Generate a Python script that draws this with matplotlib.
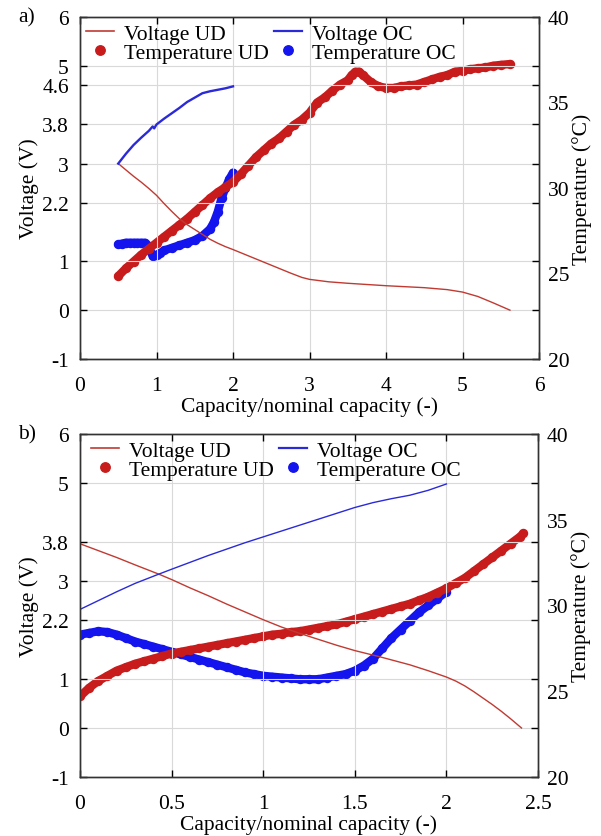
import matplotlib
matplotlib.use("Agg")
import matplotlib.pyplot as plt
from matplotlib.lines import Line2D

plt.rcParams['font.family'] = ['Liberation Serif', 'DejaVu Serif']

RED_LINE = '#c03a32'
RED_DOT = '#c81c1c'
BLUE_LINE = '#2a2ad8'
BLUE_DOT = '#1414ee'

# ---------------- Panel a data ----------------
a_vud_x = [0.5, 0.6, 0.7, 0.8, 0.9, 1.0, 1.1, 1.2, 1.3, 1.4, 1.5, 1.6, 1.7, 1.8, 1.9, 2.0,
           2.25, 2.5, 2.75, 2.9, 3.0, 3.25, 3.5, 4.0, 4.5, 4.8, 5.0, 5.2, 5.4, 5.62]
a_vud_y = [3.0, 2.87, 2.74, 2.62, 2.49, 2.35, 2.18, 2.02, 1.87, 1.75, 1.65, 1.55, 1.45, 1.37, 1.30, 1.24,
           1.08, 0.92, 0.76, 0.67, 0.63, 0.58, 0.55, 0.5, 0.46, 0.42, 0.37, 0.28, 0.15, 0.0]

a_voc_x = [0.5, 0.6, 0.7, 0.8, 0.9, 0.95, 0.97, 1.0, 1.1, 1.2, 1.3, 1.4, 1.5, 1.6, 1.7, 1.8, 1.9, 2.0]
a_voc_y = [3.0, 3.2, 3.38, 3.53, 3.67, 3.76, 3.72, 3.8, 3.92, 4.03, 4.14, 4.26, 4.35, 4.44, 4.48, 4.51, 4.54, 4.58]

a_tud_x = [0.5, 0.6, 0.7, 0.8, 0.9, 1.0, 1.1, 1.2, 1.3, 1.4, 1.5, 1.6, 1.7, 1.8, 1.9, 2.0,
           2.1, 2.2, 2.3, 2.4, 2.5, 2.6, 2.7, 2.8, 2.9, 3.0, 3.1, 3.2, 3.3, 3.4, 3.5, 3.55,
           3.6, 3.65, 3.7, 3.8, 3.9, 4.0, 4.1, 4.2, 4.3, 4.4, 4.5, 4.6, 4.7, 4.8, 4.9, 5.0,
           5.1, 5.2, 5.3, 5.4, 5.5, 5.62]
a_tud_y = [24.85, 25.3, 25.7, 26.1, 26.45, 26.8, 27.15, 27.5, 27.85, 28.2, 28.6, 29.0, 29.4, 29.75, 30.05, 30.35,
           30.8, 31.3, 31.8, 32.2, 32.6, 32.9, 33.3, 33.7, 34.0, 34.4, 35.0, 35.3, 35.7, 36.05, 36.3, 36.6,
           36.8, 36.8, 36.6, 36.2, 35.95, 35.85, 35.85, 35.95, 36.0, 36.05, 36.2, 36.35, 36.5, 36.6, 36.8, 36.85,
           36.95, 37.0, 37.05, 37.15, 37.2, 37.25]

a_toc_x = [0.5, 0.55, 0.6, 0.65, 0.7, 0.75, 0.8, 0.85, 0.9, 0.95, 1.0, 1.05, 1.1, 1.2, 1.3, 1.4,
           1.5, 1.6, 1.7, 1.75, 1.8, 1.85, 1.9, 1.95, 2.0]
a_toc_y = [26.7, 26.75, 26.8, 26.8, 26.8, 26.8, 26.8, 26.8, 26.6, 26.0, 26.1, 26.2, 26.35, 26.5, 26.65, 26.8,
           26.95, 27.2, 27.6, 28.0, 28.6, 29.4, 30.0, 30.5, 30.9]

# ---------------- Panel b data ----------------
b_vud_x = [0.0, 0.1, 0.2, 0.3, 0.43, 0.5, 0.6, 0.7, 0.8, 0.9, 1.0, 1.1, 1.2, 1.3, 1.4, 1.5, 1.64,
           1.7, 1.8, 1.9, 2.0, 2.05, 2.1, 2.15, 2.2, 2.25, 2.3, 2.35, 2.41]
b_vud_y = [3.76, 3.62, 3.48, 3.33, 3.14, 3.03, 2.86, 2.7, 2.53, 2.37, 2.21, 2.06, 1.93, 1.81, 1.69, 1.58, 1.45,
           1.39, 1.29, 1.17, 1.04, 0.96, 0.86, 0.74, 0.61, 0.48, 0.34, 0.19, 0.0]

b_voc_x = [0.0, 0.1, 0.2, 0.3, 0.43, 0.5, 0.6, 0.7, 0.8, 0.9, 1.0, 1.1, 1.2, 1.3, 1.4, 1.5, 1.6, 1.7, 1.8, 1.9, 2.0]
b_voc_y = [2.42, 2.6, 2.78, 2.95, 3.14, 3.24, 3.38, 3.52, 3.65, 3.78, 3.9, 4.02, 4.14, 4.26, 4.38, 4.5, 4.6, 4.68, 4.75, 4.85, 4.98]

b_tud_x = [0.0, 0.05, 0.1, 0.15, 0.2, 0.25, 0.3, 0.35, 0.4, 0.45, 0.5, 0.55, 0.6, 0.65, 0.7, 0.75,
           0.8, 0.85, 0.9, 0.95, 1.0, 1.05, 1.1, 1.15, 1.2, 1.25, 1.3, 1.35, 1.4, 1.45, 1.5, 1.55,
           1.6, 1.65, 1.7, 1.75, 1.8, 1.85, 1.9, 1.95, 2.0, 2.05, 2.1, 2.15, 2.2, 2.25, 2.3, 2.35,
           2.4, 2.42]
b_tud_y = [24.7, 25.2, 25.6, 25.9, 26.2, 26.4, 26.6, 26.75, 26.9, 27.05, 27.2, 27.3, 27.4, 27.5, 27.6, 27.7,
           27.8, 27.9, 28.0, 28.1, 28.2, 28.3, 28.35, 28.45, 28.5, 28.6, 28.7, 28.8, 28.9, 29.05, 29.2, 29.35,
           29.5, 29.65, 29.8, 29.95, 30.1, 30.3, 30.5, 30.75, 31.0, 31.3, 31.6, 32.0, 32.4, 32.8, 33.2, 33.6,
           34.0, 34.2]

b_toc_x = [0.0, 0.05, 0.1, 0.15, 0.2, 0.25, 0.3, 0.35, 0.4, 0.45, 0.5, 0.55, 0.6, 0.65, 0.7, 0.75,
           0.8, 0.85, 0.9, 0.95, 1.0, 1.05, 1.1, 1.15, 1.2, 1.25, 1.3, 1.35, 1.4, 1.45, 1.5, 1.55,
           1.6, 1.65, 1.7, 1.75, 1.8, 1.85, 1.9, 1.95, 2.0]
b_toc_y = [28.3, 28.4, 28.5, 28.45, 28.3, 28.1, 27.9, 27.75, 27.6, 27.45, 27.3, 27.15, 27.0, 26.85, 26.7, 26.55,
           26.4, 26.25, 26.1, 26.0, 25.9, 25.85, 25.8, 25.75, 25.7, 25.7, 25.7, 25.8, 25.9, 26.0, 26.2, 26.5,
           26.9, 27.5, 28.1, 28.6, 29.1, 29.6, 30.0, 30.4, 30.8]

# ---------------- axis config ----------------
v_ticks = {'a': [-1, 0, 1, 2.2, 3, 3.8, 4.6, 5, 6], 'b': [-1, 0, 1, 2.2, 3, 3.8, 5, 6]}
v_ticklabels = {'a': ['-1', '0', '1', '2.2', '3', '3.8', '4.6', '5', '6'],
                'b': ['-1', '0', '1', '2.2', '3', '3.8', '5', '6']}
t_ticks = [20, 25, 30, 35, 40]
x_ticks = {'a': [0, 1, 2, 3, 4, 5, 6], 'b': [0, 0.5, 1, 1.5, 2, 2.5]}
x_ticklabels = {'a': ['0', '1', '2', '3', '4', '5', '6'], 'b': ['0', '0.5', '1', '1.5', '2', '2.5']}
x_lim = {'a': (0, 6), 'b': (0, 2.5)}

FS = 15.5
MS = 6.8
BAND = 6.0

fig = plt.figure(figsize=(6.01, 8.37), dpi=100)

panels = {
    'a': dict(rect=[80/601, 1-360/837, 459/601, 342/837],
              vud=(a_vud_x, a_vud_y), voc=(a_voc_x, a_voc_y),
              tud=(a_tud_x, a_tud_y), toc=(a_toc_x, a_toc_y),
              voc_lw=1.7, legx=0.0),
    'b': dict(rect=[80/601, 1-778/837, 458/601, 343/837],
              vud=(b_vud_x, b_vud_y), voc=(b_voc_x, b_voc_y),
              tud=(b_tud_x, b_tud_y), toc=(b_toc_x, b_toc_y),
              voc_lw=1.0, legx=0.01),
}

for key, p in panels.items():
    ax = fig.add_axes(p['rect'])
    axr = ax.twinx()
    ax.set_zorder(axr.get_zorder() + 1)
    ax.patch.set_visible(False)

    # temperature markers (right axis)
    axr.plot(p['toc'][0], p['toc'][1], '-o', color=BLUE_DOT, lw=BAND, ms=MS,
             solid_capstyle='round', solid_joinstyle='round', markeredgewidth=0)
    axr.plot(p['tud'][0], p['tud'][1], '-o', color=RED_DOT, lw=BAND, ms=MS,
             solid_capstyle='round', solid_joinstyle='round', markeredgewidth=0)

    # voltage lines (left axis)
    ax.plot(p['vud'][0], p['vud'][1], color=RED_LINE, lw=1.0)
    ax.plot(p['voc'][0], p['voc'][1], color=BLUE_LINE, lw=p['voc_lw'])

    ax.set_xlim(*x_lim[key])
    ax.set_ylim(-1, 6)
    axr.set_ylim(20, 40)
    ax.set_xticks(x_ticks[key])
    ax.set_xticklabels(x_ticklabels[key])
    ax.set_yticks(v_ticks[key])
    ax.set_yticklabels(v_ticklabels[key])
    axr.set_yticks(t_ticks)

    ax.grid(True, color='#d9d9d9', lw=0.8)
    ax.set_axisbelow(True)

    ax.tick_params(direction='in', length=5, width=1, top=True, right=True,
                   labelsize=FS)
    ax.tick_params(axis='x', pad=12)
    ax.tick_params(axis='y', pad=8)
    axr.tick_params(direction='in', length=0, labelsize=FS, pad=6.5)
    for sp in list(ax.spines.values()) + list(axr.spines.values()):
        sp.set_linewidth(1.0)
        sp.set_color('#333333')

    ax.set_xlabel('Capacity/nominal capacity (-)', fontsize=FS, labelpad=1.5)
    ax.set_ylabel('Voltage (V)', fontsize=FS, labelpad=2)
    axr.set_ylabel('Temperature (°C)', fontsize=FS, labelpad=2)

    handles = [
        Line2D([], [], color=RED_LINE, lw=1.2),
        Line2D([], [], marker='o', ls='none', color=RED_DOT, ms=MS),
        Line2D([], [], color=BLUE_LINE, lw=1.6),
        Line2D([], [], marker='o', ls='none', color=BLUE_DOT, ms=MS),
    ]
    labels = ['Voltage UD', 'Temperature UD', 'Voltage OC', 'Temperature OC']
    ax.legend(handles, labels, ncol=2, loc='upper left', bbox_to_anchor=(p['legx'], 1.0),
              frameon=False, fontsize=FS, handlelength=1.3, handletextpad=0.45,
              columnspacing=0.25, labelspacing=-0.05, borderaxespad=0.0, borderpad=0.3)

    ax.text(-0.135, 1.0, key + ')', transform=ax.transAxes, fontsize=FS,
            ha='left', va='center')

fig.savefig('out.png', dpi=100)
